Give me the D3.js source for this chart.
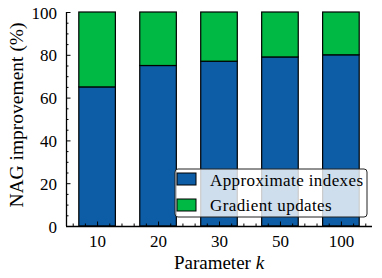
<!DOCTYPE html>
<meta charset="utf-8">
<head>
  <title>NAG improvement</title>
  <script src="https://d3js.org/d3.v7.min.js"></script>
  <style>
    body { margin: 0; background: #fff; }
    text { font-family: "Liberation Serif", "DejaVu Serif", serif; fill: #000; }
    .tick text { font-size: 17px; }
  </style>
</head>
<body>
<svg id="chart" width="382" height="278"></svg>
<script>
const categories = ["10", "20", "30", "50", "100"];
const approxIndexes = [65, 75, 77, 79, 80];
const gradientUpdates = [35, 25, 23, 21, 20];
const seriesNames = ["Approximate indexes", "Gradient updates"];
const yTicks = [0, 20, 40, 60, 80, 100];

const colors = ["#0C5DA5", "#00B945"];
const margin = {left: 66, top: 12, right: 10, bottom: 52};
const width = 382, height = 278;

const svg = d3.select("#chart");

// numeric x so the minor ticks can sit between categories
const x = d3.scaleLinear()
  .domain([-0.51, categories.length - 1 + 0.51])
  .range([margin.left, width - margin.right]);
const y = d3.scaleLinear()
  .domain([0, 100])
  .range([height - margin.bottom, margin.top]);

const barW = 0.6;

const rows = categories.map((c, i) => ({i: i, a: approxIndexes[i], g: gradientUpdates[i]}));
const stack = d3.stack().keys(["a", "g"])(rows);

svg.append("g")
  .selectAll("g")
  .data(stack)
  .join("g")
    .attr("fill", (d, k) => colors[k])
  .selectAll("rect")
  .data(d => d)
  .join("rect")
    .attr("x", d => x(d.data.i - barW / 2))
    .attr("width", x(barW) - x(0))
    .attr("y", d => y(d[1]))
    .attr("height", d => y(d[0]) - y(d[1]))
    .attr("stroke", "#000")
    .attr("stroke-width", 1.2);

// axes, ticks point inward
const yAxis = svg.append("g")
  .attr("transform", `translate(${margin.left},0)`)
  .call(d3.axisLeft(y).tickValues(yTicks).tickSize(-4.5).tickPadding(9));
yAxis.append("g")
  .call(d3.axisLeft(y).tickValues(d3.range(0, 101, 5).filter(v => v % 20)).tickSize(-2.5).tickFormat(""))
  .select(".domain").remove();

const xAxis = svg.append("g")
  .attr("transform", `translate(0,${height - margin.bottom})`)
  .call(d3.axisBottom(x).tickValues(d3.range(categories.length))
    .tickFormat(i => categories[i]).tickSize(-4.5).tickPadding(9));
const minorX = d3.range(-2, 23).map(v => v * 0.2).filter(v => Math.abs(v - Math.round(v)) > 0.01);
xAxis.append("g")
  .call(d3.axisBottom(x).tickValues(minorX).tickSize(-2.5).tickFormat(""))
  .select(".domain").remove();

svg.selectAll(".domain").attr("stroke", "#000").attr("stroke-width", 1.3);
xAxis.select(".domain").attr("d", `M${margin.left},0.5H${width - margin.right}`);
yAxis.select(".domain").attr("d", `M0.5,${y(100)}V${y(0)}`);
svg.selectAll(".tick line").attr("stroke", "#000").attr("stroke-width", 1);
yAxis.selectAll(".tick text").attr("dy", "0.36em");

// axis titles
svg.append("text")
  .attr("x", x(2)).attr("y", 269)
  .attr("text-anchor", "middle").attr("font-size", 19)
  .html('Parameter <tspan font-style="italic">k</tspan>');
svg.append("text")
  .attr("transform", `translate(23,${(y(0) + y(100)) / 2 - 4}) rotate(-90)`)
  .attr("text-anchor", "middle").attr("font-size", 19.5)
  .text("NAG improvement (%)");

// legend
const lg = svg.append("g").attr("transform", "translate(175,169)");
lg.append("rect")
  .attr("width", 192).attr("height", 48).attr("rx", 3)
  .attr("fill", "#fff").attr("fill-opacity", 0.8)
  .attr("stroke", "#222").attr("stroke-width", 1);
seriesNames.forEach((name, k) => {
  lg.append("rect")
    .attr("x", 2).attr("y", 4 + k * 26).attr("width", 19).attr("height", 12)
    .attr("fill", colors[k]).attr("stroke", "#000").attr("stroke-width", 1);
  lg.append("text")
    .attr("x", 35).attr("y", 17 + k * 25)
    .attr("font-size", 17).attr("letter-spacing", 0.4)
    .text(name);
});
</script>
</body>
